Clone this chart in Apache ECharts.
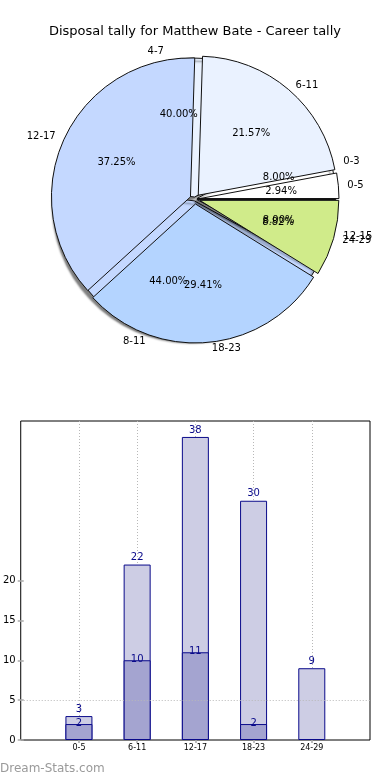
<!DOCTYPE html>
<html>
<head>
<meta charset="utf-8">
<script src="https://cdn.jsdelivr.net/npm/echarts@6/dist/echarts.min.js"></script>
<style>
  html, body { margin: 0; padding: 0; background: #fff; }
  #chart { width: 390px; height: 780px; }
</style>
</head>
<body>
<div id="chart"></div>
<script>
// ---- data ----
const titleText = 'Disposal tally for Matthew Bate - Career tally';
const pie1Names = ['0-5', '6-11', '12-17', '18-23', '24-29'];
const pie1Values = [3, 22, 38, 30, 9];
const pie2Names = ['0-3', '4-7', '8-11', '12-15'];
const pie2Values = [2, 10, 11, 2];
const barCategories = ['0-5', '6-11', '12-17', '18-23', '24-29'];
const barTotals = [3, 22, 38, 30, 9];
const barSubset = [2, 10, 11, 2];
const yTickValues = [0, 5, 10, 15, 20];
const xTickValues = [1, 2, 3, 4, 5];
const refLineValue = 5;

// ---- styles ----
const FONT = 'DejaVu Sans';
const pie1Colors = ['#ffffff', '#eaf2ff', '#c4d8ff', '#b4d4ff', '#d0eb8a'];
const pie2Colors = ['#ffffff', '#eaf2ff', '#c4d8ff', '#b4d4ff'];
const CENTER = [195, 199];
const R = 139;

function pctData(names, values) {
  const total = values.reduce((a, b) => a + b, 0);
  return names.map((n, i) => ({ name: n, value: values[i], pct: (values[i] / total * 100).toFixed(2) + '%' }));
}

function visiblePie(names, values, colors, offset, z, shadow) {
  return {
    type: 'pie', z: z, silent: true, animation: false,
    center: CENTER, radius: [0, R],
    startAngle: 0, clockwise: false,
    selectedMode: 'multiple', selectedOffset: offset,
    avoidLabelOverlap: false,
    label: { show: false }, labelLine: { show: false },
    emphasis: { disabled: true },
    itemStyle: Object.assign({ borderColor: '#111', borderWidth: 1 }, shadow ? {
      shadowColor: 'rgba(0,0,0,0.5)', shadowBlur: 2, shadowOffsetX: -3, shadowOffsetY: 3
    } : {}),
    data: names.map((n, i) => ({ name: n, value: values[i], selected: true, itemStyle: { color: colors[i] } }))
  };
}

function pctPie(names, values, z) {
  return {
    type: 'pie', z: z, silent: true, animation: false,
    center: CENTER, radius: [R * 0.2, R],
    startAngle: 0, clockwise: false,
    avoidLabelOverlap: false,
    itemStyle: { color: 'transparent', borderWidth: 0 },
    emphasis: { disabled: true },
    label: {
      show: true, position: 'inside', fontFamily: FONT, fontSize: 10, color: '#000',
      formatter: p => p.data.pct
    },
    labelLayout: { hideOverlap: false },
    labelLine: { show: false },
    data: pctData(names, values)
  };
}

function namePie(names, values, z) {
  return {
    type: 'pie', z: z, silent: true, animation: false,
    center: CENTER, radius: [0, R],
    startAngle: 0, clockwise: false,
    avoidLabelOverlap: false,
    itemStyle: { color: 'transparent', borderWidth: 0 },
    emphasis: { disabled: true },
    label: {
      show: true, position: 'outside', fontFamily: FONT, fontSize: 10, color: '#000',
      formatter: '{b}', distanceToLabelLine: 3
    },
    labelLayout: { hideOverlap: false },
    labelLine: { show: false, length: 11, length2: 0 },
    data: names.map((n, i) => ({ name: n, value: values[i] }))
  };
}

const gridSplit = { show: true, lineStyle: { color: '#b8b8b8', type: [1, 2], width: 1 } };
const tickStyle = { show: true, inside: true, length: 3, lineStyle: { color: '#aaaaaa', width: 1.5 } };

const option = {
  backgroundColor: '#fff',
  animation: false,
  title: {
    text: titleText, left: 'center', top: 20,
    textStyle: { fontFamily: FONT, fontSize: 13, fontWeight: 'normal', color: '#000' }
  },
  grid: {
    left: 19, right: 20, top: 421, bottom: 40,
    show: true, borderColor: '#000', borderWidth: 1, backgroundColor: 'transparent'
  },
  xAxis: [{
    type: 'value', min: 0, max: 6, interval: 1, position: 'bottom',
    axisLine: { show: false },
    axisTick: Object.assign({ customValues: xTickValues }, tickStyle),
    axisLabel: {
      customValues: xTickValues, fontFamily: FONT, fontSize: 8, color: '#000', margin: 4,
      formatter: v => barCategories[v - 1] || ''
    },
    splitLine: gridSplit
  }, {
    type: 'value', min: 0, max: 6, interval: 1, position: 'top',
    axisLine: { show: false },
    axisTick: Object.assign({ customValues: xTickValues }, tickStyle),
    axisLabel: { show: false }, splitLine: { show: false }
  }],
  yAxis: [{
    type: 'value', min: 0, max: 40, interval: 5, position: 'left',
    axisLine: { show: false },
    axisTick: Object.assign({ customValues: yTickValues }, tickStyle),
    axisLabel: { customValues: yTickValues, fontFamily: FONT, fontSize: 10, color: '#000', margin: 5 },
    splitLine: { show: false }
  }, {
    type: 'value', min: 0, max: 40, interval: 5, position: 'right',
    axisLine: { show: false },
    axisTick: Object.assign({ customValues: yTickValues }, tickStyle),
    axisLabel: { show: false }, splitLine: { show: false }
  }],
  graphic: [{
    type: 'text', left: 0, top: 763,
    style: { text: 'Dream-Stats.com', fontFamily: FONT, fontSize: 12, fill: '#9a9a9a' }
  }],
  series: [
    visiblePie(pie2Names, pie2Values, pie2Colors, 2, 1, true),
    visiblePie(pie1Names, pie1Values, pie1Colors, 5, 2, false),
    pctPie(pie2Names, pie2Values, 5),
    pctPie(pie1Names, pie1Values, 5),
    namePie(pie2Names, pie2Values, 5),
    namePie(pie1Names, pie1Values, 5),
    {
      type: 'bar', xAxisIndex: 0, yAxisIndex: 0, barWidth: 27, barGap: '-100%', z: 3,
      itemStyle: { color: '#cdcde4', borderColor: '#0a0a8a', borderWidth: 1 },
      label: { show: true, position: 'top', distance: 2, fontFamily: FONT, fontSize: 10, color: '#0a0a8a', formatter: p => p.value[1] },
      labelLayout: { hideOverlap: false },
      data: barTotals.map((v, i) => [i + 1, v]),
      markLine: {
        silent: true, symbol: 'none', label: { show: false },
        lineStyle: { color: '#b8b8b8', type: [1, 2], width: 1 },
        data: [{ yAxis: refLineValue }]
      }
    },
    {
      type: 'bar', xAxisIndex: 0, yAxisIndex: 0, barWidth: 27, barGap: '-100%', z: 4,
      itemStyle: { color: '#a4a4d0', borderColor: '#0a0a8a', borderWidth: 1 },
      label: { show: true, position: 'top', distance: -4, fontFamily: FONT, fontSize: 10, color: '#0a0a8a', formatter: p => p.value[1] },
      labelLayout: { hideOverlap: false },
      data: barSubset.map((v, i) => [i + 1, v])
    }
  ]
};

const chart = echarts.init(document.getElementById('chart'), null, { renderer: 'canvas' });
chart.setOption(option);
</script>
</body>
</html>
